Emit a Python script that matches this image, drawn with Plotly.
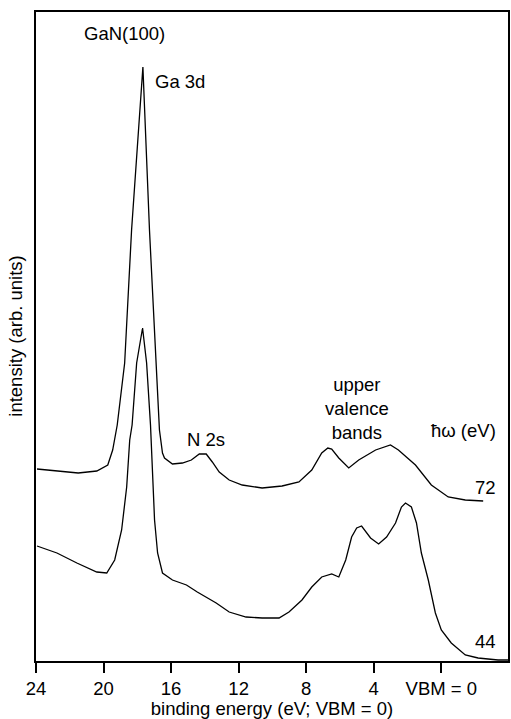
import plotly.graph_objects as go

# Binding energy (eV, VBM = 0) and intensity (arb. units)
energy_72 = [23.94, 22.58, 21.5, 20.40, 19.75, 19.46, 19.19, 18.75, 18.34, 17.67, 17.28,
             16.69, 16.51, 16.39, 15.92, 15.33, 14.80, 14.33, 13.92, 13.56, 13.15, 12.56,
             11.79, 10.61, 9.43, 8.43, 7.67, 7.08, 6.72, 6.49, 6.07, 5.48, 4.89, 3.89,
             3.01, 2.54, 1.53, 0.59, -0.41, -1.42, -2.48]
intensity_72 = [192, 190, 188, 190, 196, 211, 236, 298, 431, 594, 431,
                231, 208, 203, 197, 198, 201, 207, 207, 199, 189, 181,
                176, 173, 175, 179, 191, 208, 213, 212, 203, 193, 201, 211,
                216, 211, 196, 176, 164, 161, 160]

energy_44 = [23.94, 22.76, 21.58, 20.40, 19.81, 19.34, 18.93, 18.63, 18.45, 18.31, 18.04,
             17.69, 17.45, 17.22, 16.98, 16.80, 16.51, 15.92, 15.09, 14.45, 13.33, 12.56,
             11.56, 10.61, 9.61, 9.02, 8.25, 7.67, 7.08, 6.49, 6.07, 5.66, 5.31, 5.01,
             4.72, 4.19, 3.71, 3.24, 2.71, 2.36, 2.12, 1.77, 1.47, 1.18, 0.77, 0.35,
             0.00, -0.59, -1.42, -2.18, -3.36, -3.95]
intensity_44 = [115, 108, 98, 89, 88, 101, 131, 174, 221, 236, 298,
                333, 298, 236, 141, 108, 88, 81, 76, 69, 58, 49,
                44, 43, 43, 49, 61, 74, 84, 87, 84, 101, 124, 133,
                135, 123, 117, 124, 138, 154, 158, 154, 138, 108, 81, 48,
                31, 18, 6, 3, 1, 1]

tick_values = [24, 20, 16, 12, 8, 4, 0]
tick_labels = ["24", "20", "16", "12", "8", "4", "VBM = 0"]

FONT = "Liberation Sans"
fsize = 18.5

fig = go.Figure()
fig.add_trace(go.Scatter(x=energy_72, y=intensity_72, mode="lines",
                         line=dict(color="black", width=1.3), showlegend=False))
fig.add_trace(go.Scatter(x=energy_44, y=intensity_44, mode="lines",
                         line=dict(color="black", width=1.3), showlegend=False))

ann = dict(showarrow=False, font=dict(family=FONT, size=fsize, color="black"))
fig.add_annotation(x=21.29, y=628, text="GaN(100)", xanchor="left", yanchor="middle", **ann)
fig.add_annotation(x=17.10, y=580, text="Ga 3d", xanchor="left", yanchor="middle", **ann)
fig.add_annotation(x=15.15, y=222, text="N 2s", xanchor="left", yanchor="middle", **ann)
fig.add_annotation(x=5.01, y=253, text="upper<br>valence<br>bands", xanchor="center",
                   yanchor="middle", align="center", **ann)
fig.add_annotation(x=-3.36, y=231, text="ħω (eV)", xanchor="right", yanchor="middle", **ann)
fig.add_annotation(x=-3.36, y=174, text="72", xanchor="right", yanchor="middle", **ann)
fig.add_annotation(x=-3.36, y=20, text="44", xanchor="right", yanchor="middle", **ann)
fig.add_annotation(xref="paper", yref="paper", x=-0.044, y=0.5, text="intensity (arb. units)",
                   textangle=-90, xanchor="center", yanchor="middle", **ann)

fig.update_xaxes(range=[24, -3.95], tickvals=tick_values, ticktext=tick_labels,
                 ticks="outside", ticklen=10, tickwidth=1.5, tickcolor="black",
                 showline=True, linecolor="black", linewidth=1.8, mirror=True,
                 showgrid=False, zeroline=False,
                 tickfont=dict(family=FONT, size=fsize, color="black"),
                 title=dict(text="binding energy (eV; VBM = 0)",
                            font=dict(family=FONT, size=fsize, color="black"), standoff=0))
fig.update_yaxes(range=[0, 649], showticklabels=False, ticks="",
                 showline=True, linecolor="black", linewidth=1.8, mirror=True,
                 showgrid=False, zeroline=False)

fig.update_layout(width=511, height=719, margin=dict(l=36, r=1, t=12, b=58),
                  plot_bgcolor="white", paper_bgcolor="white")

fig.write_html("out.html")
